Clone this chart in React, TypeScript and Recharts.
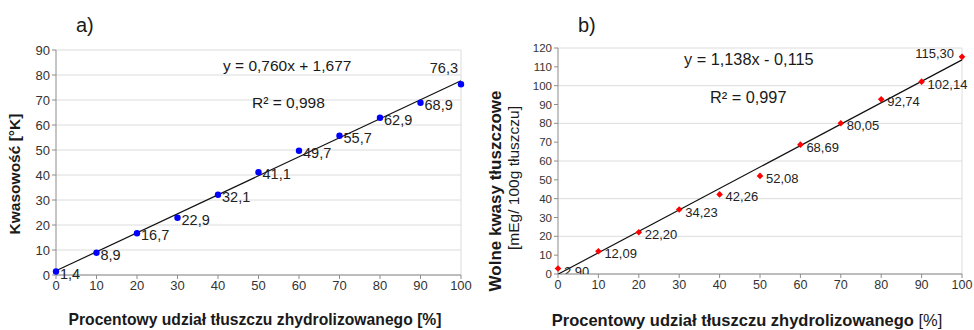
import React from "react";
import {
  ScatterChart,
  Scatter,
  XAxis,
  YAxis,
  CartesianGrid,
  ReferenceLine,
} from "recharts";

const FONT = "'Liberation Sans', Arial, sans-serif";

// udział tłuszczu zhydrolizowanego [%]
const shares = [0, 10, 20, 30, 40, 50, 60, 70, 80, 90, 100];

// a) kwasowość [°K]
const acidity = [1.4, 8.9, 16.7, 22.9, 32.1, 41.1, 49.7, 55.7, 62.9, 68.9, 76.3];
const acidityTrend = { slope: 0.76, intercept: 1.677 };
const acidityTicks = [0, 10, 20, 30, 40, 50, 60, 70, 80, 90];

// b) wolne kwasy tłuszczowe [mEg/100g]
const freeAcids = [2.9, 12.09, 22.2, 34.23, 42.26, 52.08, 68.69, 80.05, 92.74, 102.14, 115.3];
const freeAcidsTrend = { slope: 1.138, intercept: -0.115 };
const freeAcidsTicks = [0, 10, 20, 30, 40, 50, 60, 70, 80, 90, 100, 110, 120];

const xTicks = [0, 10, 20, 30, 40, 50, 60, 70, 80, 90, 100];

const toPoints = (ys: number[], digits: number) =>
  shares.map((x, i) => ({
    x,
    y: ys[i],
    label: ys[i].toFixed(digits).replace(".", ","),
    last: i === shares.length - 1,
  }));

const trendPoints = (t: { slope: number; intercept: number }) =>
  [shares[0], shares[shares.length - 1]].map((x) => ({
    x,
    y: t.slope * x + t.intercept,
  }));

const AXIS_COLOR = "#8c8c8c";
const GRID_COLOR = "#dcdcdc";

const CirclePoint = (props: any) => {
  const { cx, cy, payload } = props;
  return (
    <g>
      <circle cx={cx} cy={cy} r={3.2} fill="#0000ff" />
      {payload.last ? (
        <text x={cx - 3} y={cy - 11} textAnchor="end" fontSize={14.5} fill="#222" fontFamily={FONT}>
          {payload.label}
        </text>
      ) : (
        <text x={cx + 4} y={cy + 7} fontSize={14.5} fill="#222" fontFamily={FONT}>
          {payload.label}
        </text>
      )}
    </g>
  );
};

const DiamondPoint = (props: any) => {
  const { cx, cy, payload } = props;
  const s = 3.3;
  return (
    <g>
      <path
        d={`M${cx},${cy - s}L${cx + s},${cy}L${cx},${cy + s}L${cx - s},${cy}Z`}
        fill="#ff0000"
      />
      {payload.last ? (
        <text x={cx - 8} y={cy + 1} textAnchor="end" fontSize={13} fill="#222" fontFamily={FONT}>
          {payload.label}
        </text>
      ) : (
        <text x={cx + 6} y={cy + 7} fontSize={13} fill="#222" fontFamily={FONT}>
          {payload.label}
        </text>
      )}
    </g>
  );
};

const NoShape = () => <g />;

const abs = (left: number, top: number, extra: React.CSSProperties = {}): React.CSSProperties => ({
  position: "absolute",
  left,
  top,
  fontFamily: FONT,
  color: "#1a1a1a",
  whiteSpace: "nowrap",
  lineHeight: 1,
  ...extra,
});

const centered = (cx: number, cy: number, extra: React.CSSProperties = {}): React.CSSProperties =>
  abs(cx, cy, { transform: "translate(-50%, -50%)", ...extra });

const rotated = (cx: number, cy: number, extra: React.CSSProperties = {}): React.CSSProperties =>
  abs(cx, cy, { transform: "translate(-50%, -50%) rotate(-90deg)", ...extra });

export default function App() {
  const dataA = toPoints(acidity, 1);
  const dataB = toPoints(freeAcids, 2);

  return (
    <div
      style={{
        position: "fixed",
        left: 0,
        top: 0,
        width: 974,
        height: 330,
        background: "#fff",
        overflow: "hidden",
      }}
    >
      {/* a) */}
      <div style={{ position: "absolute", left: 0, top: 0 }}>
        <ScatterChart width={487} height={330} margin={{ top: 50, right: 26, bottom: 25, left: 0 }}>
          <CartesianGrid vertical={false} stroke={GRID_COLOR} />
          <XAxis
            type="number"
            dataKey="x"
            domain={[0, 100]}
            ticks={xTicks}
            height={30}
            stroke={AXIS_COLOR}
            tickSize={4}
            tick={{ fill: "#333", fontSize: 13, fontFamily: FONT }}
          />
          <YAxis
            type="number"
            dataKey="y"
            domain={[0, 90]}
            ticks={acidityTicks}
            width={56}
            stroke={AXIS_COLOR}
            tickSize={4}
            tick={{ fill: "#333", fontSize: 13, fontFamily: FONT }}
          />
          <ReferenceLine x={100} stroke={GRID_COLOR} />
          <Scatter
            data={trendPoints(acidityTrend)}
            line={{ stroke: "#111", strokeWidth: 1.2 }}
            shape={NoShape}
            isAnimationActive={false}
          />
          <Scatter data={dataA} shape={CirclePoint} isAnimationActive={false} />
        </ScatterChart>
      </div>

      {/* b) */}
      <div style={{ position: "absolute", left: 487, top: 0 }}>
        <ScatterChart width={487} height={330} margin={{ top: 48, right: 12, bottom: 26, left: 0 }}>
          <CartesianGrid vertical={false} stroke={GRID_COLOR} />
          <XAxis
            type="number"
            dataKey="x"
            domain={[0, 100]}
            ticks={xTicks}
            height={30}
            stroke={AXIS_COLOR}
            tickSize={4}
            tick={{ fill: "#333", fontSize: 12.5, fontFamily: FONT }}
          />
          <YAxis
            type="number"
            dataKey="y"
            domain={[0, 120]}
            allowDataOverflow
            ticks={freeAcidsTicks}
            width={71}
            stroke={AXIS_COLOR}
            tickSize={4}
            tick={{ fill: "#333", fontSize: 11.5, fontFamily: FONT }}
          />
          <ReferenceLine x={100} stroke={GRID_COLOR} />
          <Scatter
            data={trendPoints(freeAcidsTrend)}
            line={{ stroke: "#111", strokeWidth: 1.2 }}
            shape={NoShape}
            isAnimationActive={false}
          />
          <Scatter data={dataB} shape={DiamondPoint} isAnimationActive={false} />
        </ScatterChart>
      </div>

      {/* annotations a) */}
      <div style={abs(76, 15, { fontSize: 20 })}>a)</div>
      <div style={abs(223, 58, { fontSize: 15.5 })}>y = 0,760x + 1,677</div>
      <div style={abs(252, 95, { fontSize: 15.5 })}>R² = 0,998</div>
      <div style={rotated(15, 174, { fontSize: 15.5, fontWeight: "bold" })}>Kwasowość [°K]</div>
      <div style={centered(255, 320, { fontSize: 15.7, fontWeight: "bold" })}>
        Procentowy udział tłuszczu zhydrolizowanego [%]
      </div>

      {/* annotations b) */}
      <div style={abs(578, 15, { fontSize: 20 })}>b)</div>
      <div style={abs(684, 51, { fontSize: 16.3 })}>y = 1,138x - 0,115</div>
      <div style={abs(710, 89, { fontSize: 16.3 })}>R² = 0,997</div>
      <div style={rotated(495, 191, { fontSize: 17, fontWeight: "bold" })}>Wolne kwasy tłuszczowe</div>
      <div style={rotated(514, 178, { fontSize: 15.5 })}>[mEg/ 100g tłuszczu]</div>
      <div style={centered(747, 320, { fontSize: 16.5 })}>
        <span style={{ fontWeight: "bold" }}>Procentowy udział tłuszczu zhydrolizowanego </span>
        <span>[%]</span>
      </div>
    </div>
  );
}
